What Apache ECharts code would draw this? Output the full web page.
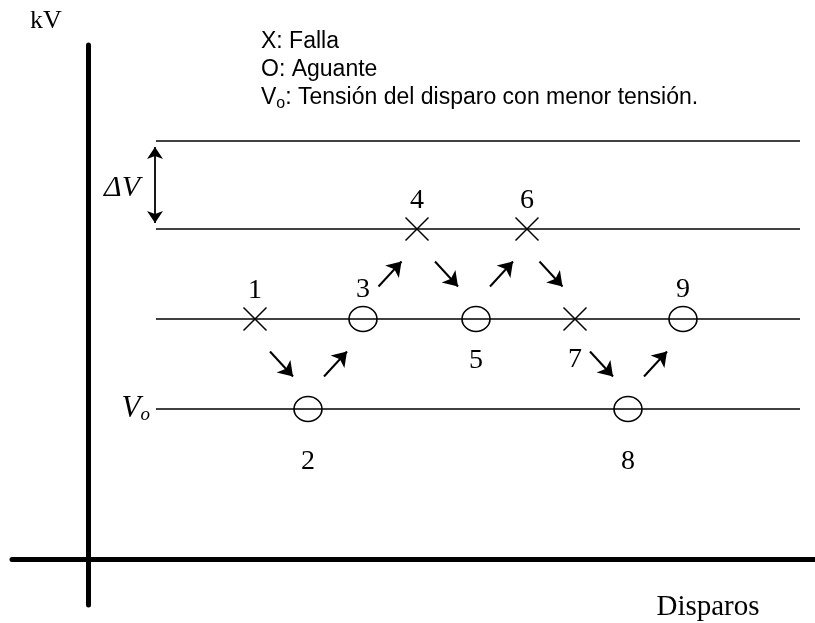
<!DOCTYPE html>
<html>
<head>
<meta charset="utf-8">
<script src="https://cdn.jsdelivr.net/npm/echarts@6/dist/echarts.min.js"></script>
<style>html,body{margin:0;padding:0;background:#fff}#main{width:815px;height:623px}</style>
</head>
<body>
<div id="main"></div>
<script>
var chart = echarts.init(document.getElementById('main'));

// test levels (kV above the shot axis): Vo, Vo+dV, Vo+2dV, Vo+3dV
var levelKV = [150, 240, 330, 418];
var levelFrom = 68;
var levelTo = 712;

// shots
var shotNo = ['1', '2', '3', '4', '5', '6', '7', '8', '9'];
var shotX = [167, 220, 275, 329, 388, 439, 487, 540, 595];
var shotLevel = [1, 0, 1, 2, 1, 2, 1, 0, 1];
var shotResult = ['X', 'O', 'O', 'X', 'O', 'X', 'X', 'O', 'O'];
var labelSide = ['top', 'bottom', 'top', 'top', 'bottom', 'top', 'bottom', 'bottom', 'top'];

// delta V marker between the two top levels
var deltaX = 67;

var crossPath = 'path://M0,0L20,20M20,0L0,20';
var serif = '"Liberation Serif", "Times New Roman", serif';
var sans = '"Liberation Sans", Arial, sans-serif';

var levelData = levelKV.map(function (v, i) {
  return {
    coords: [[levelFrom, v], [levelTo, v]],
    label: i === 0 ? {
      show: true,
      position: 'start',
      distance: 6,
      formatter: '{v|V}{s|o}',
      rich: {
        v: {fontFamily: serif, fontStyle: 'italic', fontSize: 31, color: '#000'},
        s: {fontFamily: serif, fontStyle: 'italic', fontSize: 19, color: '#000', padding: [12, 0, 0, 0]}
      }
    } : {show: false}
  };
});

var arrowData = [];
for (var i = 0; i < shotX.length - 1; i++) {
  var x0 = shotX[i], y0 = levelKV[shotLevel[i]];
  var x1 = shotX[i + 1], y1 = levelKV[shotLevel[i + 1]];
  var mx = (x0 + x1) / 2, my = (y0 + y1) / 2;
  var dx = 11.5, dy = 12.5;
  if (y1 > y0) {
    arrowData.push({coords: [[mx - dx, my - dy], [mx + dx, my + dy]]});
  } else {
    arrowData.push({coords: [[mx - dx, my + dy], [mx + dx, my - dy]]});
  }
}

var shotData = shotX.map(function (x, i) {
  var isFail = shotResult[i] === 'X';
  var side = labelSide[i];
  return {
    value: [x, levelKV[shotLevel[i]]],
    symbol: isFail ? crossPath : 'circle',
    symbolSize: isFail ? 23 : [28, 25],
    label: {
      position: side,
      distance: side === 'top' ? 2 : (shotLevel[i] === 0 ? 25 : 14)
    }
  };
});

var option = {
  animation: false,
  grid: {left: 12, right: 0, top: 45, bottom: 18},
  xAxis: {
    type: 'value', min: -76, max: 727,
    axisLine: {onZero: true, lineStyle: {color: '#000', width: 5}},
    axisTick: {show: false}, axisLabel: {show: false}, splitLine: {show: false}
  },
  yAxis: {
    type: 'value', min: -46, max: 514,
    axisLine: {onZero: true, lineStyle: {color: '#000', width: 5}},
    axisTick: {show: false}, axisLabel: {show: false}, splitLine: {show: false}
  },
  series: [
    {
      name: 'levels',
      type: 'lines',
      coordinateSystem: 'cartesian2d',
      silent: true,
      symbol: 'none',
      lineStyle: {color: '#000', width: 1.6, opacity: 1},
      data: levelData
    },
    {
      name: 'steps',
      type: 'lines',
      coordinateSystem: 'cartesian2d',
      silent: true,
      symbol: ['none', 'arrow'],
      symbolSize: 14,
      lineStyle: {color: '#000', width: 2, opacity: 1},
      data: arrowData
    },
    {
      name: 'deltaV',
      type: 'lines',
      coordinateSystem: 'cartesian2d',
      silent: true,
      symbol: ['arrow', 'arrow'],
      symbolSize: 12,
      lineStyle: {color: '#000', width: 1.8, opacity: 1},
      data: [{coords: [[deltaX, levelKV[3] - 6], [deltaX, levelKV[2] + 6]]}]
    },
    {
      name: 'shots',
      type: 'scatter',
      silent: true,
      z: 5,
      itemStyle: {color: 'rgba(0,0,0,0)', borderColor: '#000', borderWidth: 1.5, opacity: 1},
      label: {
        show: true,
        fontFamily: serif,
        fontSize: 28,
        color: '#000',
        formatter: function (p) { return shotNo[p.dataIndex]; }
      },
      data: shotData
    }
  ],
  graphic: [
    {type: 'text', x: 46, y: 21, style: {text: 'kV', font: '26px ' + serif, fill: '#000', align: 'center', verticalAlign: 'middle'}},
    {type: 'text', x: 708, y: 607, style: {text: 'Disparos', font: '29px ' + serif, fill: '#000', align: 'center', verticalAlign: 'middle'}},
    {type: 'text', x: 122, y: 188, style: {text: '\u0394V', font: 'italic 30px ' + serif, fill: '#000', align: 'center', verticalAlign: 'middle'}},
    {
      type: 'text', x: 261, y: 28,
      style: {
        text: 'X: Falla\nO: Aguante\n{v|V}{s|o}: Tensi\u00f3n del disparo con menor tensi\u00f3n.',
        font: '23px ' + sans, fill: '#000', lineHeight: 28,
        rich: {
          v: {fontFamily: sans, fontSize: 23, lineHeight: 28},
          s: {fontFamily: sans, fontSize: 16, padding: [11, 0, 0, 0], lineHeight: 28}
        }
      }
    }
  ]
};
chart.setOption(option);
</script>
</body>
</html>
